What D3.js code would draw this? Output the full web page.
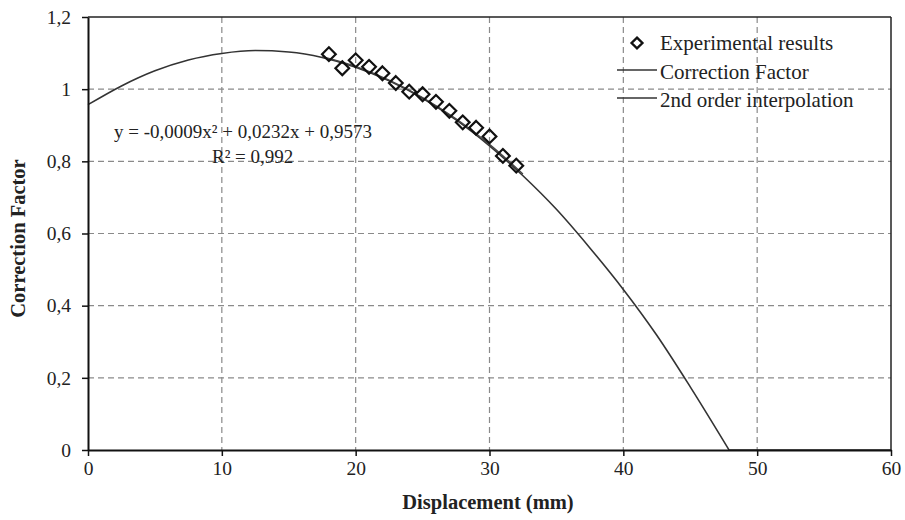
<!DOCTYPE html>
<html><head><meta charset="utf-8">
<script src="https://cdn.jsdelivr.net/npm/d3@7"></script>
<style>
html,body{margin:0;padding:0;background:#fff;}
svg text{font-family:"Liberation Serif","DejaVu Serif",serif;fill:#222;}
</style></head>
<body><svg id="chart" width="905" height="520"></svg>
<script>
// Experimental results (displacement mm, correction factor)
const expX = [18,19,20,21,22,23,24,25,26,27,28,29,30,31,32];
const expY = [1.097,1.058,1.080,1.062,1.044,1.017,0.993,0.986,0.965,0.940,0.908,0.893,0.869,0.815,0.788];
// Correction factor curve
const cfX = [0,2.5,5,7.5,10,12.5,15,17.5,20,22.5,25,27.5,30,32.5,35,37.5,40,42.5,45,47.9];
const cfY = [0.957,1.009,1.051,1.081,1.099,1.107,1.103,1.088,1.061,1.023,0.975,0.915,0.843,0.760,0.667,0.560,0.445,0.318,0.175,0];
const cfTailX = [47.9,60];
const cfTailY = [0,0];
// 2nd order interpolation over experimental range
const ipX = [17.5,20,22.5,25,27.5,30,32.5];
const ipY = [1.090,1.063,1.025,0.977,0.918,0.847,0.765];
const xTicks = [0,10,20,30,40,50,60];
const yTicks = [0,0.2,0.4,0.6,0.8,1,1.2];
const yTickLabels = ["0","0,2","0,4","0,6","0,8","1","1,2"];
const legendLabels = ["Experimental results","Correction Factor","2nd order interpolation"];
const eqText = "y = -0,0009x² + 0,0232x + 0,9573";
const r2Text = "R² = 0,992";

const FONT = "Liberation Serif, DejaVu Serif, serif";
const svg = d3.select("#chart");
const L=88, R=891, T=17, B=450;
const x = d3.scaleLinear().domain([0,60]).range([L,R]);
const y = d3.scaleLinear().domain([0,1.2]).range([B,T]);

// grid
const g = svg.append("g");
g.selectAll(".vg").data(xTicks.filter(d=>d>0&&d<60)).enter().append("line")
 .attr("x1",d=>x(d)).attr("x2",d=>x(d)).attr("y1",T).attr("y2",B)
 .attr("stroke","#8a8a8a").attr("stroke-width",1.2).attr("stroke-dasharray","6,4");
g.selectAll(".hg").data(yTicks.filter(d=>d>0&&d<1.2)).enter().append("line")
 .attr("x1",L).attr("x2",R).attr("y1",d=>y(d)).attr("y2",d=>y(d))
 .attr("stroke","#8a8a8a").attr("stroke-width",1.2).attr("stroke-dasharray","6,4");

// frame
svg.append("line").attr("x1",L).attr("x2",R).attr("y1",T).attr("y2",T).attr("stroke","#222").attr("stroke-width",1.5);
svg.append("line").attr("x1",R).attr("x2",R).attr("y1",T).attr("y2",B).attr("stroke","#222").attr("stroke-width",1.5);

// curves
const smooth = d3.line().x(d=>x(d[0])).y(d=>y(d[1])).curve(d3.curveMonotoneX);
const straight = d3.line().x(d=>x(d[0])).y(d=>y(d[1]));
svg.append("path").datum(cfX.map((v,i)=>[v,cfY[i]]))
 .attr("d",smooth).attr("fill","none").attr("stroke","#333").attr("stroke-width",1.6);
svg.append("path").datum(cfTailX.map((v,i)=>[v,cfTailY[i]]))
 .attr("d",straight).attr("fill","none").attr("stroke","#333").attr("stroke-width",1.6);
svg.append("path").datum(ipX.map((v,i)=>[v,ipY[i]]))
 .attr("d",smooth).attr("fill","none").attr("stroke","#444").attr("stroke-width",1.3);

// axes
const xAxis = d3.axisBottom(x).tickValues(xTicks).tickFormat(d3.format("d")).tickSize(6).tickSizeOuter(0);
const xa = svg.append("g").attr("transform",`translate(0,${B})`).call(xAxis);
const yAxis = d3.axisLeft(y).tickValues(yTicks).tickFormat((d,i)=>yTickLabels[i]).tickSize(6).tickSizeOuter(0);
const ya = svg.append("g").attr("transform",`translate(${L},0)`).call(yAxis);
[xa,ya].forEach(a=>{
  a.attr("font-family",FONT);
  a.select(".domain").attr("stroke","#111").attr("stroke-width",2);
  a.selectAll(".tick line").attr("stroke","#111").attr("stroke-width",1.5);
  a.selectAll(".tick text").style("font-family",FONT).style("font-size","19.5px").attr("fill","#222");
});
xa.selectAll(".tick text").attr("dy","0.95em").attr("y",6);
ya.selectAll(".tick text").attr("x",-17);

// points
const diamond = d3.symbol().type(d3.symbolDiamond2).size(120);
svg.selectAll(".pt").data(expX.map((v,i)=>[v,expY[i]])).enter().append("path")
 .attr("d",diamond).attr("transform",d=>`translate(${x(d[0])},${y(d[1])})`)
 .attr("fill","none").attr("stroke","#111").attr("stroke-width",2.2);

// equation
svg.append("text").attr("x",114).attr("y",138).style("font-family",FONT).style("font-size","19px").text(eqText);
svg.append("text").attr("x",212).attr("y",163).style("font-family",FONT).style("font-size","19px").text(r2Text);

// axis titles
svg.append("text").attr("x",488).attr("y",509).attr("text-anchor","middle").style("font-family",FONT)
 .style("font-size","20.5px").style("font-weight","bold").text("Displacement (mm)");
svg.append("text").attr("transform",`translate(25,${(T+B)/2+5}) rotate(-90)`).attr("text-anchor","middle").style("font-family",FONT)
 .style("font-size","20.5px").style("font-weight","bold").text("Correction Factor");

// legend
const lg = svg.append("g");
lg.append("path").attr("d",d3.symbol().type(d3.symbolDiamond2).size(75)).attr("transform","translate(637,43)")
 .attr("fill","none").attr("stroke","#111").attr("stroke-width",2.4);
lg.append("line").attr("x1",617).attr("x2",657).attr("y1",70).attr("y2",70).attr("stroke","#333").attr("stroke-width",1.5);
lg.append("line").attr("x1",617).attr("x2",657).attr("y1",98).attr("y2",98).attr("stroke","#333").attr("stroke-width",1.5);
legendLabels.forEach((t,i)=>{
  lg.append("text").attr("x",660).attr("y",50+i*28.5).style("font-family",FONT).style("font-size","21px").text(t);
});
</script></body></html>
